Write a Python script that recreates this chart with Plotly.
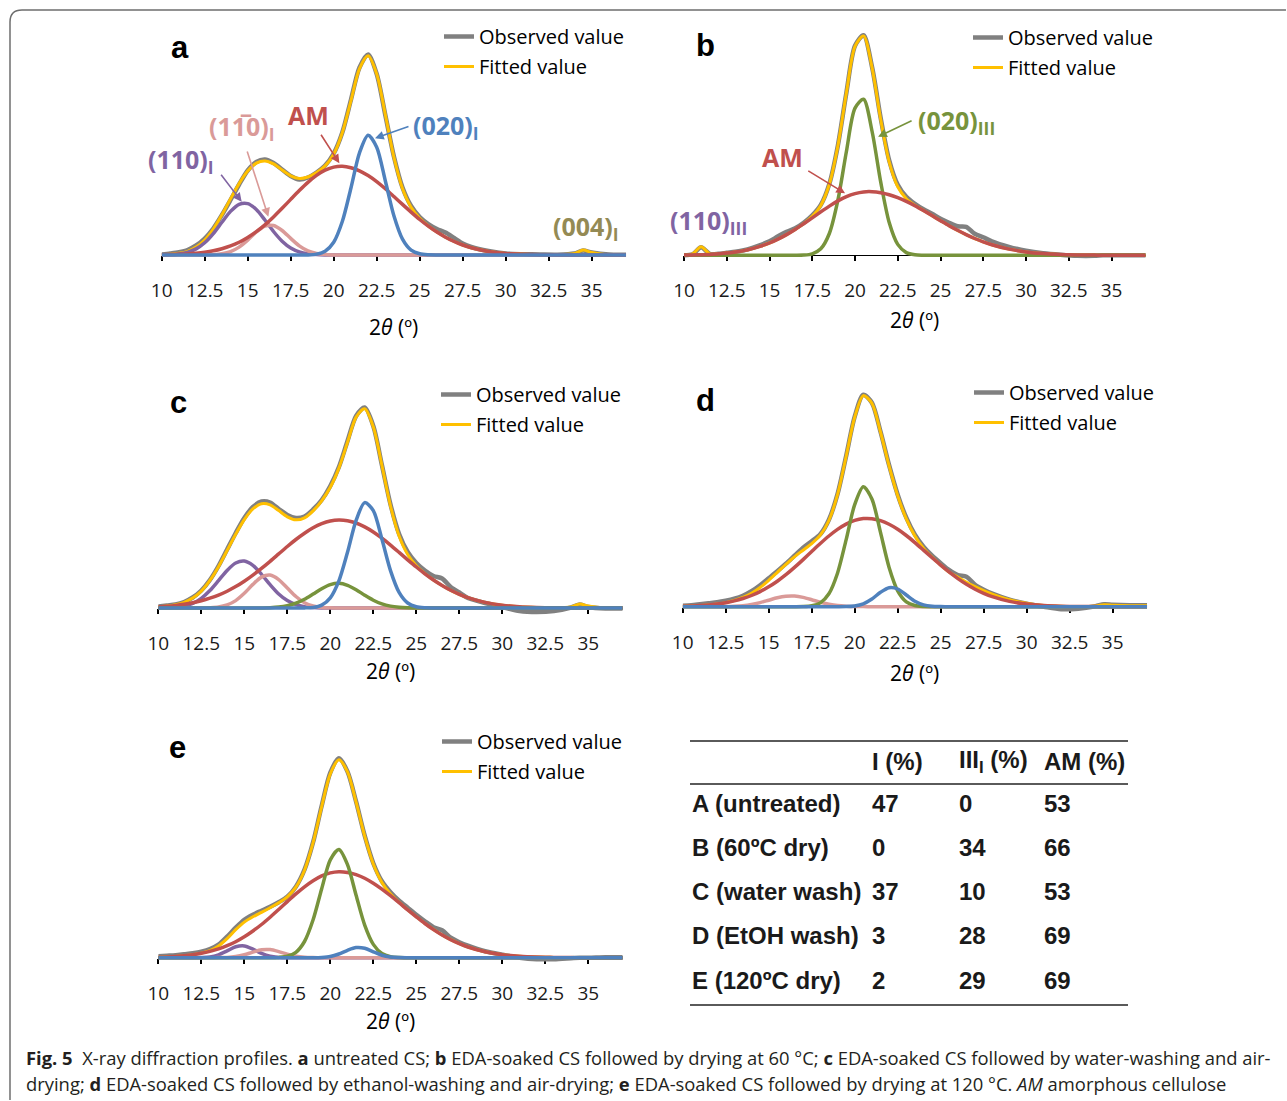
import plotly.graph_objects as go

W, H = 1287, 1101

# ---------------- data ----------------
X = [10, 10.5, 11, 11.5, 12, 12.5, 13, 13.5, 14, 14.5, 15, 15.5, 16, 16.5, 17, 17.5,
     18, 18.5, 19, 19.5, 20, 20.5, 21, 21.5, 22, 22.5, 23, 23.5, 24, 24.5, 25, 25.5,
     26, 26.5, 27, 27.5, 28, 29, 30, 31, 32, 33, 34, 34.5, 35, 36, 37]
TICKS = [10, 12.5, 15, 17.5, 20, 22.5, 25, 27.5, 30, 32.5, 35]
TICK_LABELS = ["10", "12.5", "15", "17.5", "20", "22.5", "25", "27.5", "30", "32.5", "35"]

# panel a (untreated)
a_obs = [0.5, 1.5, 2.8, 5.0, 9.5, 16.5, 26.5, 40.0, 55.0, 70.5, 84.5, 93.0, 95.5, 92.0, 85.5, 79.0,
         75.5, 77.5, 82.5, 89.5, 101.5, 122.5, 155.0, 187.5, 200.5, 181.0, 140.0, 98.5, 67.5, 49.0, 38.0, 31.0,
         26.0, 22.5, 17.0, 11.5, 8.0, 4.0, 1.5, 0.8, 0.5, 0.3, 1.5, 4.5, 2.5, 0.5, 0.3]
a_fit = [0.3, 0.7, 1.7, 3.7, 7.9, 15.0, 25.9, 40.2, 56.1, 71.4, 83.9, 91.9, 94.1, 91.1, 85.0, 79.2,
         76.6, 78.0, 82.4, 89.1, 100.8, 122.2, 154.1, 186.4, 199.2, 181.1, 140.5, 97.8, 66.5, 47.8, 36.7, 29.0,
         22.9, 17.8, 13.5, 10.0, 7.3, 3.6, 1.6, 0.7, 0.3, 0.1, 1.5, 5.0, 2.5, 0.0, 0.0]
a_110 = [0.1, 0.3, 1.0, 2.6, 6.1, 12.2, 21.4, 32.7, 43.6, 50.7, 51.4, 45.5, 35.0, 23.5, 13.8, 7.0,
         3.1, 1.2, 0.4, 0.1, 0, 0, 0, 0, 0, 0, 0, 0, 0, 0, 0, 0,
         0, 0, 0, 0, 0, 0, 0, 0, 0, 0, 0, 0, 0, 0, 0]
a_1b10 = [0, 0, 0, 0, 0, 0, 0.3, 1.2, 3.4, 7.9, 14.9, 23.0, 28.9, 29.5, 24.5, 16.6,
          9.1, 4.1, 1.5, 0.4, 0.1, 0, 0, 0, 0, 0, 0, 0, 0, 0, 0, 0,
          0, 0, 0, 0, 0, 0, 0, 0, 0, 0, 0, 0, 0, 0, 0]
a_am = [0.2, 0.4, 0.7, 1.1, 1.8, 2.8, 4.2, 6.3, 9.1, 12.8, 17.6, 23.4, 30.2, 38.1, 46.7, 55.6,
        64.4, 72.6, 79.6, 84.8, 87.9, 88.7, 87.3, 84.2, 79.4, 73.3, 66.2, 58.5, 50.6, 42.9, 35.5, 28.8,
        22.9, 17.8, 13.5, 10.0, 7.3, 3.6, 1.6, 0.7, 0.3, 0.1, 0, 0, 0, 0, 0]
a_020I = [0, 0, 0, 0, 0, 0, 0, 0, 0, 0, 0, 0, 0, 0, 0, 0,
          0, 0.1, 0.9, 3.8, 12.8, 33.5, 66.8, 102.2, 119.8, 107.8, 74.3, 39.3, 15.9, 4.9, 1.2, 0.2,
          0, 0, 0, 0, 0, 0, 0, 0, 0, 0, 0, 0, 0, 0, 0]

# panel b (60 C dry)
b_obs = [0.0, 1.0, 8.0, 1.5, 1.5, 2.5, 3.5, 5.0, 7.5, 10.5, 14.0, 19.0, 23.5, 27.0, 32.5, 40.0,
         50.5, 71.5, 110.0, 163.0, 209.5, 220.0, 188.0, 137.5, 95.0, 70.5, 58.5, 51.5, 46.0, 41.5, 36.5, 32.5,
         29.0, 28.5, 21.5, 18.0, 14.0, 8.5, 4.5, 2.0, 0.5, -0.5, -0.5, 0.0, 0.0, 0.0, 0.0]
b_fit = [0.2, 1.4, 8.6, 1.4, 1.5, 2.2, 3.3, 4.7, 6.7, 9.2, 12.3, 16.2, 20.7, 25.8, 31.7, 38.9,
         49.9, 71.0, 109.5, 162.8, 208.9, 219.4, 187.4, 136.2, 93.4, 68.5, 56.6, 50.0, 44.8, 39.7, 34.6, 29.6,
         25.0, 20.7, 16.8, 13.5, 10.6, 6.2, 3.4, 1.7, 0.8, 0.4, 0.2, 0.1, 0.1, 0.0, 0.0]
b_am = [0.2, 0.4, 0.6, 0.9, 1.5, 2.2, 3.3, 4.7, 6.7, 9.2, 12.3, 16.2, 20.7, 25.8, 31.5, 37.4,
        43.4, 49.2, 54.4, 58.7, 61.7, 63.4, 63.6, 62.6, 60.6, 57.6, 53.9, 49.5, 44.7, 39.7, 34.6, 29.6,
        25.0, 20.7, 16.8, 13.5, 10.6, 6.2, 3.4, 1.7, 0.8, 0.4, 0.2, 0.1, 0.1, 0.0, 0.0]
b_020III = [0, 0, 0, 0, 0, 0, 0, 0, 0, 0, 0, 0, 0, 0, 0.2, 1.5,
            6.5, 21.8, 55.1, 104.1, 147.2, 156.0, 123.8, 73.6, 32.8, 10.9, 2.7, 0.5, 0.1, 0, 0, 0,
            0, 0, 0, 0, 0, 0, 0, 0, 0, 0, 0, 0, 0, 0, 0]

# panel c (water wash)
c_obs = [1.5, 2.5, 3.5, 6.0, 10.5, 17.5, 28.0, 42.0, 58.5, 75.0, 90.0, 101.0, 106.5, 105.5, 99.0, 93.0,
         90.0, 91.5, 98.5, 108.0, 122.0, 141.0, 167.0, 192.0, 200.5, 182.0, 143.0, 103.5, 74.0, 56.0, 45.0, 37.5,
         32.0, 29.5, 21.0, 15.5, 10.0, 5.0, 1.0, -3.0, -4.0, -3.0, 0.5, 3.5, 1.0, -0.5, -0.5]
c_fit = [1.3, 2.0, 3.3, 5.7, 9.9, 16.9, 27.6, 41.3, 57.5, 73.8, 88.4, 99.1, 104.3, 103.2, 97.4, 91.2,
         88.2, 90.2, 97.2, 107.2, 120.8, 139.9, 165.7, 190.9, 199.3, 181.2, 142.8, 102.2, 72.0, 53.5, 42.3, 34.4,
         28.0, 22.5, 17.7, 13.7, 10.3, 5.6, 2.8, 1.3, 0.6, 0.2, 1.1, 4.0, 2.0, 0.0, 0.0]
c_110 = [0.1, 0.2, 0.7, 2.0, 4.7, 9.7, 17.5, 27.4, 37.6, 45.0, 46.9, 42.6, 33.7, 23.3, 14.0, 7.4,
         3.4, 1.3, 0.5, 0.1, 0, 0, 0, 0, 0, 0, 0, 0, 0, 0, 0, 0,
         0, 0, 0, 0, 0, 0, 0, 0, 0, 0, 0, 0, 0, 0, 0]
c_1b10 = [0, 0, 0, 0, 0, 0, 0.3, 1.0, 3.1, 7.4, 14.7, 23.6, 30.9, 32.9, 28.4, 20.0,
          11.5, 5.3, 2.0, 0.6, 0.2, 0, 0, 0, 0, 0, 0, 0, 0, 0, 0, 0,
          0, 0, 0, 0, 0, 0, 0, 0, 0, 0, 0, 0, 0, 0, 0]
c_am = [1.2, 1.8, 2.6, 3.7, 5.2, 7.2, 9.8, 12.9, 16.8, 21.4, 26.8, 32.9, 39.6, 46.7, 54.1, 61.5,
        68.5, 74.8, 80.2, 84.3, 87.0, 88.0, 87.3, 85.0, 81.1, 76.0, 69.8, 62.9, 55.6, 48.2, 41.0, 34.2,
        28.0, 22.5, 17.7, 13.7, 10.3, 5.6, 2.8, 1.3, 0.6, 0.2, 0.1, 0.0, 0.0, 0.0, 0.0]
c_020III = [0, 0, 0, 0, 0, 0, 0, 0, 0, 0, 0, 0, 0.1, 0.3, 0.9, 2.3,
            4.8, 8.7, 13.9, 19.3, 23.4, 24.7, 22.7, 18.3, 12.8, 7.8, 4.1, 1.9, 0.8, 0.3, 0.1, 0,
            0, 0, 0, 0, 0, 0, 0, 0, 0, 0, 0, 0, 0, 0, 0]
c_020I = [0, 0, 0, 0, 0, 0, 0, 0, 0, 0, 0, 0, 0, 0, 0, 0,
          0, 0.1, 0.6, 2.9, 10.2, 27.2, 55.7, 87.6, 105.4, 97.4, 68.9, 37.4, 15.6, 5.0, 1.2, 0.2,
          0, 0, 0, 0, 0, 0, 0, 0, 0, 0, 0, 0, 0, 0, 0]

# panel d (EtOH wash)
d_obs = [1.0, 1.5, 2.5, 3.5, 4.5, 6.0, 8.0, 11.0, 15.5, 21.5, 28.5, 35.5, 43.0, 51.0, 59.0, 65.5,
         72.5, 87.0, 112.5, 150.5, 190.0, 212.0, 204.0, 175.0, 141.5, 112.0, 89.0, 72.0, 60.0, 51.0, 43.5, 36.5,
         31.5, 30.0, 22.0, 17.0, 13.0, 7.0, 3.0, 0.0, -2.5, -2.0, 0.5, 2.5, 2.0, 1.5, 1.5]
d_fit = [0.5, 0.7, 1.2, 1.8, 2.7, 4.1, 6.2, 9.2, 13.4, 19.2, 26.4, 34.4, 42.4, 49.9, 56.5, 63.1,
         71.5, 86.2, 112.0, 150.0, 189.4, 211.1, 203.5, 174.7, 140.7, 111.0, 87.8, 70.8, 58.6, 49.4, 41.6, 34.5,
         29.5, 24.5, 20.0, 16.0, 12.5, 7.0, 3.5, 1.2, 0.5, 0.2, 0.8, 2.0, 1.5, 1.0, 1.0]
d_1b10 = [0, 0, 0, 0, 0.0, 0.1, 0.4, 1.0, 2.2, 4.1, 6.5, 8.9, 10.4, 10.6, 9.3, 7.0,
          4.5, 2.6, 1.2, 0.5, 0.2, 0.1, 0, 0, 0, 0, 0, 0, 0, 0, 0, 0,
          0, 0, 0, 0, 0, 0, 0, 0, 0, 0, 0, 0, 0, 0, 0]
d_am = [0.5, 0.7, 1.2, 1.8, 2.7, 4.0, 5.8, 8.2, 11.2, 15.1, 19.9, 25.5, 32.0, 39.3, 47.1, 55.2,
        63.2, 70.7, 77.3, 82.6, 86.3, 88.1, 88.0, 86.0, 82.4, 77.4, 71.2, 64.1, 56.6, 49.0, 41.5, 34.5,
        28.1, 22.4, 17.5, 13.4, 10.0, 5.3, 2.6, 1.2, 0.5, 0.2, 0.1, 0.0, 0.0, 0.0, 0.0]
d_020III = [0, 0, 0, 0, 0, 0, 0, 0, 0, 0, 0, 0, 0, 0, 0.1, 0.9,
            3.8, 12.9, 33.5, 66.8, 102.1, 120.0, 107.8, 74.3, 39.3, 15.9, 4.9, 1.2, 0.2, 0, 0, 0,
            0, 0, 0, 0, 0, 0, 0, 0, 0, 0, 0, 0, 0, 0, 0]
d_020I = [0, 0, 0, 0, 0, 0, 0, 0, 0, 0, 0, 0, 0, 0, 0, 0,
          0, 0, 0, 0.1, 0.8, 2.9, 7.7, 14.4, 19.0, 17.7, 11.7, 5.5, 1.8, 0.4, 0.1, 0,
          0, 0, 0, 0, 0, 0, 0, 0, 0, 0, 0, 0, 0, 0, 0]

# panel e (120 C dry)
e_obs = [1.5, 2.0, 2.5, 3.5, 4.5, 6.0, 8.5, 13.0, 21.0, 30.0, 38.0, 43.0, 47.0, 51.0, 55.5, 61.0,
         71.0, 88.0, 115.5, 152.0, 185.0, 199.5, 186.0, 156.0, 122.0, 94.5, 76.5, 65.5, 57.0, 50.0, 43.0, 36.5,
         30.5, 27.5, 20.0, 15.5, 12.0, 6.5, 3.0, 0.0, -1.5, -1.5, -0.5, 0.0, 0.0, 0.5, 0.5]
e_fit = [0.5, 0.8, 1.3, 2.0, 3.0, 4.6, 7.1, 11.8, 19.1, 28.0, 35.6, 40.9, 45.4, 50.0, 54.9, 60.9,
         70.6, 87.5, 115.0, 151.1, 183.9, 197.9, 185.8, 155.6, 121.5, 93.7, 75.3, 63.7, 55.3, 47.8, 40.9, 34.2,
         28.1, 22.7, 18.0, 14.0, 10.7, 5.9, 3.0, 1.4, 0.6, 0.3, 0.1, 0.0, 0.0, 0.0, 0.0]
e_110 = [0, 0, 0, 0, 0.0, 0.2, 0.8, 2.9, 6.8, 10.9, 11.8, 8.6, 4.3, 1.4, 0.3, 0,
         0, 0, 0, 0, 0, 0, 0, 0, 0, 0, 0, 0, 0, 0, 0, 0,
         0, 0, 0, 0, 0, 0, 0, 0, 0, 0, 0, 0, 0, 0, 0]
e_1b10 = [0, 0, 0, 0, 0, 0, 0, 0.1, 0.3, 1.1, 2.9, 5.6, 7.9, 8.1, 6.1, 3.4,
          1.4, 0.4, 0.1, 0, 0, 0, 0, 0, 0, 0, 0, 0, 0, 0, 0, 0,
          0, 0, 0, 0, 0, 0, 0, 0, 0, 0, 0, 0, 0, 0, 0]
e_am = [0.5, 0.8, 1.3, 2.0, 3.0, 4.4, 6.3, 8.8, 12.0, 16.0, 20.9, 26.7, 33.2, 40.5, 48.2, 56.1,
        63.8, 70.9, 77.0, 81.8, 84.8, 86.0, 85.3, 83.1, 79.5, 74.5, 68.6, 62.0, 55.0, 47.8, 40.9, 34.2,
        28.1, 22.7, 18.0, 14.0, 10.7, 5.9, 3.0, 1.4, 0.6, 0.3, 0.1, 0.0, 0.0, 0.0, 0.0]
e_020III = [0, 0, 0, 0, 0, 0, 0, 0, 0, 0, 0, 0, 0, 0, 0.3, 1.4,
            5.4, 16.2, 37.9, 69.0, 97.9, 108.2, 93.1, 62.4, 32.6, 13.3, 4.2, 1.0, 0.2, 0, 0, 0,
            0, 0, 0, 0, 0, 0, 0, 0, 0, 0, 0, 0, 0, 0, 0]
e_020I = [0, 0, 0, 0, 0, 0, 0, 0, 0, 0, 0, 0, 0, 0, 0, 0,
          0, 0, 0, 0.3, 1.2, 3.7, 7.4, 10.1, 9.4, 5.9, 2.5, 0.7, 0.1, 0, 0, 0,
          0, 0, 0, 0, 0, 0, 0, 0, 0, 0, 0, 0, 0, 0, 0]

# table
TABLE_HEAD = ["I (%)", "III<sub>I</sub> (%)", "AM (%)"]
TABLE_ROWS = ["A (untreated)", "B (60ºC dry)", "C (water wash)", "D (EtOH wash)", "E (120ºC dry)"]
TABLE_I = ["47", "0", "37", "3", "2"]
TABLE_III = ["0", "34", "10", "28", "29"]
TABLE_AM = ["53", "66", "53", "69", "69"]

# ---------------- styling ----------------
COL = dict(obs="#808080", fit="#FFC000", p110="#8064A2", p1b10="#DA9A98",
           am="#C0504D", g020="#77933C", b020="#4F81BD", olive="#948A54")
FONT = "Open Sans, Noto Sans, sans-serif"
BOLDF = "Liberation Sans, Arial, sans-serif"


def fx(x):
    return x / W


def fy(y):
    return 1 - y / H


YR = [-8, 225]
GEO = {
    1: dict(x0=161.7, sc=17.2, base=255.0, title_dy=72, leg=(480, 34), letter="a", lpos=(180, 48)),
    2: dict(x0=684.0, sc=17.1, base=255.3, title_dy=65, leg=(1009, 35), letter="b", lpos=(705, 46)),
    3: dict(x0=158.3, sc=17.2, base=608.0, title_dy=63, leg=(477, 392), letter="c", lpos=(178, 402)),
    4: dict(x0=682.7, sc=17.2, base=606.7, title_dy=66, leg=(1010, 390), letter="d", lpos=(705, 401)),
    5: dict(x0=158.3, sc=17.2, base=957.7, title_dy=63, leg=(478, 739), letter="e", lpos=(177, 747)),
}

SERIES = {
    1: [("obs", a_obs), ("fit", a_fit), ("p110", a_110), ("p1b10", a_1b10), ("am", a_am), ("b020", a_020I)],
    2: [("obs", b_obs), ("fit", b_fit), ("g020", b_020III), ("am", b_am)],
    3: [("obs", c_obs), ("fit", c_fit), ("p110", c_110), ("p1b10", c_1b10), ("am", c_am), ("g020", c_020III), ("b020", c_020I)],
    4: [("obs", d_obs), ("fit", d_fit), ("p1b10", d_1b10), ("am", d_am), ("g020", d_020III), ("b020", d_020I)],
    5: [("obs", e_obs), ("fit", e_fit), ("p110", e_110), ("p1b10", e_1b10), ("am", e_am), ("g020", e_020III), ("b020", e_020I)],
}
for n, lst in SERIES.items():
    for k, arr in lst:
        if len(arr) != len(X):
            raise ValueError(f"panel {n} series {k} has {len(arr)} values")

NAMES = {"obs": "Observed value", "fit": "Fitted value"}
WIDTH = {"obs": 4.5, "fit": 3.0}

fig = go.Figure()
layout = dict(width=W, height=H, margin=dict(l=0, r=0, t=0, b=0, pad=0, autoexpand=False),
              paper_bgcolor="white", plot_bgcolor="rgba(0,0,0,0)", showlegend=True)
annotations = []
shapes = []


def text_at(x, y, text, font, xanchor="center"):
    annotations.append(dict(x=fx(x), y=fy(y), xref="paper", yref="paper", xanchor=xanchor,
                            yanchor="middle", showarrow=False, text=text, font=font))


for n, g in GEO.items():
    sfx = "" if n == 1 else str(n)
    xa, ya = f"xaxis{sfx}", f"yaxis{sfx}"
    lg = "legend" if n == 1 else f"legend{n}"
    for k, arr in SERIES[n]:
        fig.add_trace(go.Scatter(
            x=X, y=arr, mode="lines", name=NAMES.get(k, k),
            line=dict(color=COL[k], width=WIDTH.get(k, 3.5), shape="spline", smoothing=0.8),
            xaxis=f"x{sfx}", yaxis=f"y{sfx}",
            showlegend=k in NAMES, legend=lg, legendgroup=f"{n}{k}",
            hoverinfo="skip"))
    x1 = g["x0"] + 27 * g["sc"]
    layout[xa] = dict(domain=[fx(g["x0"]), fx(x1)], range=[10, 37], anchor="free",
                      position=fy(g["base"]), showline=True, linecolor="black", linewidth=1.3,
                      ticks="outside", ticklen=5, tickwidth=1.5, tickcolor="black",
                      tickvals=TICKS, ticktext=TICK_LABELS, ticklabelstandoff=13,
                      tickfont=dict(family=FONT, size=19, color="#1a1a1a"), automargin=False,
                      showgrid=False, zeroline=False, layer="below traces", fixedrange=True)
    layout[ya] = dict(domain=[fy(g["base"] - YR[0]), fy(g["base"] - YR[1])], range=YR,
                      visible=False, anchor=f"x{sfx}", fixedrange=True, automargin=False)
    lx, ly = g["leg"]
    layout[lg] = dict(x=fx(lx - 41), y=fy(ly - 17), xanchor="left", yanchor="top",
                      bgcolor="rgba(0,0,0,0)", borderwidth=0, tracegroupgap=1,
                      font=dict(family=FONT, size=20, color="black"), itemwidth=30)
    text_at((g["x0"] + x1) / 2, g["base"] + g["title_dy"], "2<i>θ</i> (º)",
            dict(family=FONT, size=21, color="black"))
    text_at(g["lpos"][0], g["lpos"][1], f"<b>{g['letter']}</b>",
            dict(family=BOLDF, size=31, color="black"))

LBL = 25


def label(x, y, text, color, size=LBL):
    text_at(x, y, f"<b>{text}</b>", dict(family=FONT, size=size, color=color))


def arrow(n, hx, hy, ax, ay, color):
    sfx = "" if n == 1 else str(n)
    annotations.append(dict(x=hx, y=hy, xref=f"x{sfx}", yref=f"y{sfx}", ax=ax, ay=ay,
                            text="", showarrow=True, arrowhead=2, arrowsize=1.1, arrowwidth=1.6,
                            arrowcolor=color))


label(181, 160, "(110)<sub>I</sub>", COL["p110"])
label(242, 128, "(11\u03050)<sub>I</sub>", COL["p1b10"])
label(308, 115, "AM", COL["am"])
label(446, 126, "(020)<sub>I</sub>", COL["b020"])
label(586, 227, "(004)<sub>I</sub>", COL["olive"])
arrow(1, 14.65, 53.3, -21.7, -28.4, COL["p110"])
arrow(1, 16.2, 38.3, -21.6, -66.7, COL["p1b10"])
arrow(1, 20.33, 91.7, -19.3, -30.0, COL["am"])
arrow(1, 22.4, 116.7, 35.0, -12.3, COL["b020"])

label(708, 222, "(110)<sub>III</sub>", COL["p110"])
label(782, 157, "AM", COL["am"])
label(956, 122, "(020)<sub>III</sub>", COL["g020"])
arrow(2, 19.42, 62.0, -38.3, -23.3, COL["am"])
arrow(2, 21.35, 118.6, 35.0, -16.7, COL["g020"])

# table
TCOLX = [870, 957, 1042]
TROWY = [803, 847, 891, 935, 980]
tfont = dict(family=BOLDF, size=24, color="#1a1a1a")
for cx, txt in zip(TCOLX, TABLE_HEAD):
    text_at(cx, 761, f"<b>{txt}</b>", tfont, xanchor="left")
for i, ry in enumerate(TROWY):
    cells = [TABLE_ROWS[i], TABLE_I[i], TABLE_III[i], TABLE_AM[i]]
    for cx, txt in zip([690] + TCOLX, cells):
        text_at(cx, ry, f"<b>{txt}</b>", tfont, xanchor="left")
for ry in [741, 784, 1005]:
    shapes.append(dict(type="line", xref="paper", yref="paper", x0=fx(690), x1=fx(1128),
                       y0=fy(ry), y1=fy(ry), line=dict(color="#5a5a5a", width=2)))

# caption
cap1 = ("<b>Fig. 5</b>\u00a0\u00a0X-ray diffraction profiles. <b>a</b> untreated CS; <b>b</b> EDA-soaked CS "
        "followed by drying at 60 °C; <b>c</b> EDA-soaked CS followed by water-washing and air-")
cap2 = ("drying; <b>d</b> EDA-soaked CS followed by ethanol-washing and air-drying; <b>e</b> EDA-soaked CS "
        "followed by drying at 120 °C. <i>AM</i> amorphous cellulose")
for ty, txt in [(1057, cap1), (1083, cap2)]:
    text_at(24, ty, txt, dict(family=FONT, size=18.4, color="#231f20"), xanchor="left")

# border frame with rounded top-left corner (kept inside the figure)
p = lambda x, y: f"{fx(x):.5f},{fy(y):.5f}"
shapes.append(dict(type="path", xref="paper", yref="paper",
                   path=f"M {p(10, 1100)} L {p(10, 22)} Q {p(10, 10)} {p(22, 10)} L {p(1286, 10)}",
                   line=dict(color="#6e6e6e", width=1.5)))

layout["annotations"] = annotations
layout["shapes"] = shapes
fig.update_layout(**layout)
fig.write_html("out.html", config={"displayModeBar": False, "responsive": False},
               post_script="document.body.style.margin='0';document.body.style.overflow='hidden';")
